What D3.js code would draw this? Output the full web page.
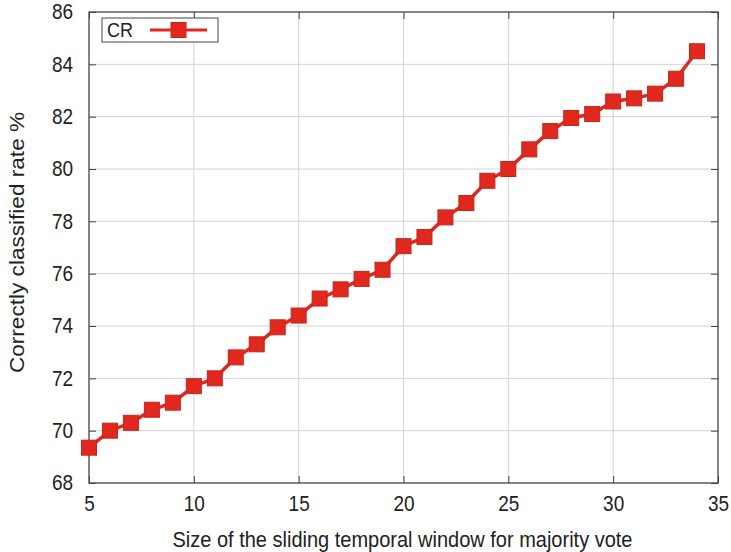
<!DOCTYPE html>
<html>
  <head>
    <meta charset="utf-8" />
    <title>CR vs window size</title>
    <script src="https://cdn.jsdelivr.net/npm/d3@7"></script>
    <style>
      html, body { margin: 0; padding: 0; background: #fff; }
      svg { display: block; font-family: "Liberation Sans", Arial, sans-serif; }
      .grid line { stroke: #d4d4d4; stroke-width: 1; }
      .tick text { font-size: 19px; fill: #222; }
      .label { font-size: 20px; fill: #222; }
      /* the picture is a bit taller than wide, so stretch text vertically */
      .tall { transform-box: fill-box; transform-origin: center; transform: scaleY(1.13); }
    </style>
  </head>
<body>
<svg id="chart" width="731" height="552"></svg>
<script>
// window sizes and correctly classified rate
let windowSize = [5, 6, 7, 8, 9, 10, 11, 12, 13, 14, 15, 16, 17, 18, 19,
                  20, 21, 22, 23, 24, 25, 26, 27, 28, 29, 30, 31, 32, 33, 34];
let crRate = [69.35, 70.0, 70.3, 70.8, 71.07, 71.7, 72.0, 72.8, 73.3, 73.95,
              74.4, 75.05, 75.4, 75.8, 76.15, 77.05, 77.4, 78.15, 78.7, 79.55,
              80.0, 80.75, 81.45, 81.95, 82.1, 82.58, 82.7, 82.88, 83.45, 84.5];
let xTicks = [5, 10, 15, 20, 25, 30, 35];
let yTicks = [68, 70, 72, 74, 76, 78, 80, 82, 84, 86];

let margin = {left: 89, right: 13, top: 12, bottom: 69};
let width = 731, height = 552;

let svg = d3.select('#chart');
let x = d3.scaleLinear().domain([5, 35]).range([margin.left, width - margin.right]);
let y = d3.scaleLinear().domain([68, 86]).range([height - margin.bottom, margin.top]);

// grid
let grid = svg.append('g').attr('class', 'grid');
grid.selectAll('line.v').data(xTicks.slice(1, -1)).enter().append('line')
    .attr('x1', d => x(d)).attr('x2', d => x(d))
    .attr('y1', y(68)).attr('y2', y(86));
grid.selectAll('line.h').data(yTicks.slice(1, -1)).enter().append('line')
    .attr('y1', d => y(d)).attr('y2', d => y(d))
    .attr('x1', x(5)).attr('x2', x(35));

// axes with inward ticks, mirrored
let tk = 7;
svg.append('g').attr('transform', `translate(0,${y(68)})`)
   .call(d3.axisBottom(x).tickValues(xTicks).tickSizeInner(-tk).tickSizeOuter(0).tickPadding(14))
   .call(g => g.select('.domain').remove());
svg.append('g').attr('transform', `translate(${x(5)},0)`)
   .call(d3.axisLeft(y).tickValues(yTicks).tickSizeInner(-tk).tickSizeOuter(0).tickPadding(16))
   .call(g => g.select('.domain').remove());
svg.append('g').attr('transform', `translate(0,${y(86)})`)
   .call(d3.axisTop(x).tickValues(xTicks).tickSizeInner(-tk).tickSizeOuter(0).tickFormat(''))
   .call(g => g.select('.domain').remove());
svg.append('g').attr('transform', `translate(${x(35)},0)`)
   .call(d3.axisRight(y).tickValues(yTicks).tickSizeInner(-tk).tickSizeOuter(0).tickFormat(''))
   .call(g => g.select('.domain').remove());
svg.selectAll('.tick line').attr('stroke', '#444');
svg.selectAll('.tick text').attr('font-family', null).attr('font-size', null).classed('tall', true);

svg.append('rect')
   .attr('x', x(5)).attr('y', y(86))
   .attr('width', x(35) - x(5)).attr('height', y(68) - y(86))
   .attr('fill', 'none').attr('stroke', '#444').attr('stroke-width', 1.3);

// series
let red = '#e0281e';
let pts = windowSize.map((w, i) => [w, crRate[i]]);
svg.append('path')
   .datum(pts)
   .attr('fill', 'none').attr('stroke', red).attr('stroke-width', 3.5)
   .attr('d', d3.line().x(d => x(d[0])).y(d => y(d[1])));
let s = 15;
svg.selectAll('rect.pt').data(pts).enter().append('rect')
   .attr('class', 'pt')
   .attr('x', d => x(d[0]) - s / 2).attr('y', d => y(d[1]) - s / 2)
   .attr('width', s).attr('height', s)
   .attr('fill', red).attr('stroke', '#c8241a').attr('stroke-width', 1);

// legend
let lg = svg.append('g');
lg.append('rect').attr('x', 102).attr('y', 18).attr('width', 116).attr('height', 24)
  .attr('fill', '#fff').attr('stroke', '#444').attr('stroke-width', 1);
lg.append('text').attr('class', 'label tall').attr('x', 107).attr('y', 36)
  .style('font-size', '18px').text('CR');
lg.append('line').attr('x1', 150).attr('x2', 207).attr('y1', 30).attr('y2', 30)
  .attr('stroke', red).attr('stroke-width', 3);
lg.append('rect').attr('x', 171).attr('y', 22.5).attr('width', s).attr('height', s)
  .attr('fill', red).attr('stroke', '#c8241a');

// axis titles
svg.append('text').attr('class', 'label tall')
   .attr('x', (x(5) + x(35)) / 2 - 1).attr('y', 546)
   .attr('text-anchor', 'middle')
   .text('Size of the sliding temporal window for majority vote');
svg.append('g')
   .attr('transform', `translate(24,${(y(68) + y(86)) / 2 - 5}) scale(1,1.13) rotate(-90)`)
   .append('text').attr('class', 'label')
   .attr('text-anchor', 'middle')
   .text('Correctly classified rate %');
</script>
</body>
</html>
